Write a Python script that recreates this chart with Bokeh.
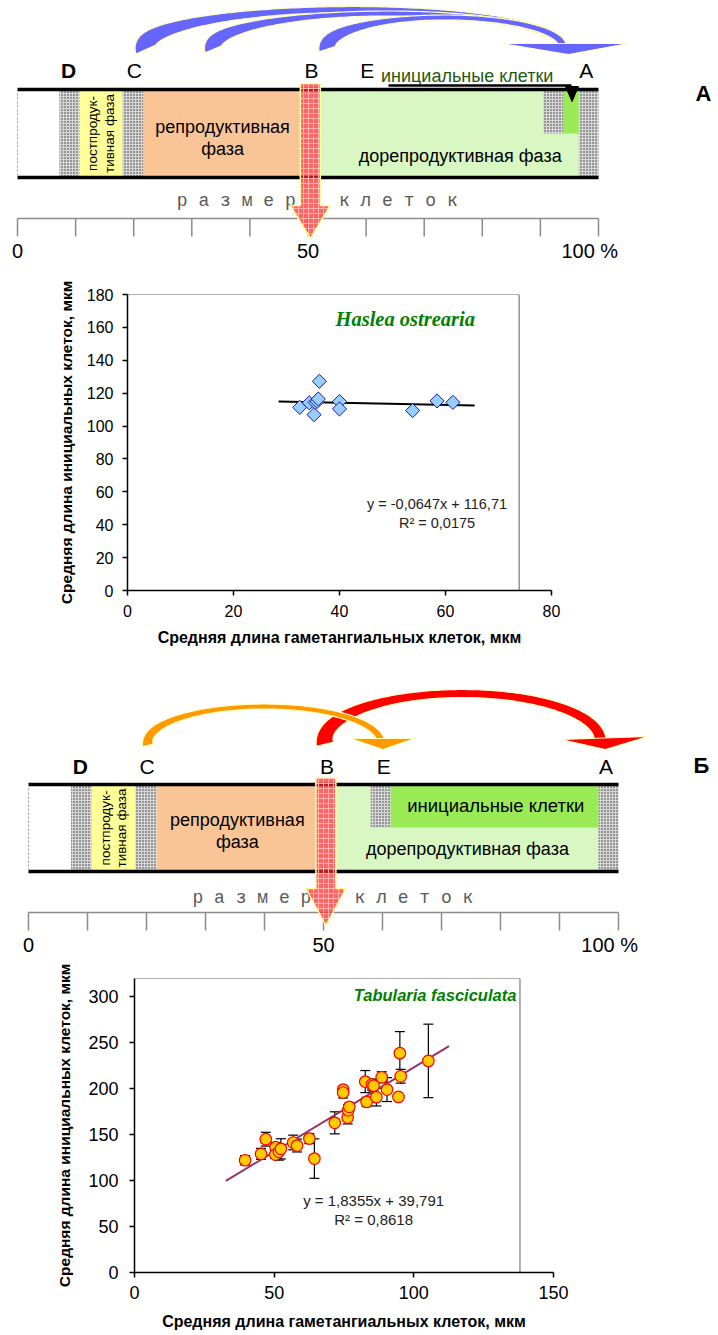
import numpy as np
from bokeh.plotting import figure
from bokeh.layouts import column
from bokeh.models import Range1d, FixedTicker, Whisker, TeeHead, ColumnDataSource
from bokeh.core.properties import value
from bokeh.embed import file_html
from bokeh.resources import INLINE

SANS = "Liberation Sans"
SERIF = "Liberation Serif"
MONO = "Liberation Mono"

# ---------------- Chart A data: Haslea ostrearia ----------------
ha_gamet = [32.5, 34.3, 35.2, 35.4, 35.8, 36.0, 36.2, 40.0, 40.0, 53.8, 58.4, 61.4]
ha_init = [111.4, 114.1, 106.9, 114.4, 115.0, 116.5, 127.2, 114.9, 110.4, 109.4, 115.3, 114.4]
ha_slope, ha_icept = -0.0647, 116.71
ha_fit_x = [28.5, 65.5]
ha_xticks = [0, 20, 40, 60, 80]
ha_yticks = [0, 20, 40, 60, 80, 100, 120, 140, 160, 180]

# ---------------- Chart Б data: Tabularia fasciculata ----------------
tf_gamet = [39.6, 45.3, 47.0, 50.5, 50.4, 51.7, 52.4, 56.8, 58.2, 62.6, 64.4, 71.7, 74.7, 74.7,
            76.3, 76.5, 76.9, 82.6, 83.1, 85.0, 85.6, 86.6, 88.5, 90.4, 94.5, 95.0, 95.3, 105.2]
tf_init = [122.2, 129.1, 145.1, 136.4, 128.4, 131.3, 134.6, 141.5, 138.2, 145.8, 124.0, 162.9, 199.1, 195.9,
           168.7, 176.6, 180.3, 207.8, 185.7, 204.6, 203.4, 190.8, 212.5, 199.1, 191.1, 238.7, 213.6, 230.3]
tf_err = [5, 6, 7.5, 5, 4, 9, 11, 8, 7, 5.5, 21.5, 12, 3, 6,
          7, 6, 4, 12, 5, 6, 6, 9.5, 6, 13, 0, 23.5, 7.5, 40]
tf_slope, tf_icept = 1.8355, 39.791
tf_fit_x = [32.7, 112.6]
tf_xticks = [0, 50, 100, 150]
tf_yticks = [0, 50, 100, 150, 200, 250, 300]

# ---------------- Diagram data (percent of the cell-size scale) ----------------
scale_ticks = [0, 10, 20, 30, 40, 50, 60, 70, 80, 90, 100]
scale_label_pos = [0, 50, 100]
scale_labels = ["0", "50", "100 %"]
stage_letters = ["D", "C", "B", "E", "A"]
stage_pos = [8.8, 20.1, 50.6, 60.2, 97.9]
phase_start = [0.0, 7.2, 10.7, 18.1, 21.7, 48.7, 52.0, 96.6]
phase_end = [7.2, 10.7, 18.1, 21.7, 48.7, 52.0, 96.6, 100.0]
phase_kind = ["empty", "stipple", "post", "stipple", "repro", "empty", "prerepro", "stipple"]
inset_top_start = [90.5, 94.0]
inset_top_end = [94.0, 96.6]
inset_bot_start = [58.0, 61.4]
inset_bot_end = [61.4, 96.6]
inset_kind = ["stipple", "initial"]
B_pos = 50.4

FILL = {"empty": "#ffffff", "stipple": "#d6d6d6", "post": "#ffff99", "repro": "#f9c597",
        "prerepro": "#d8f7c2", "initial": "#99ea55"}

NB = "\u00a0"
RAZMER = NB.join("размер") + NB * 4 + NB.join("клеток")


def txt(p, x, y, s, size, color="black", style="normal", align="center", baseline="middle",
        angle=0.0, font=SANS):
    p.text(x=[x], y=[y], text=[s], text_font=value(font), text_font_size=value(f"{size}px"),
           text_color=color, text_font_style=style, text_align=align, text_baseline=baseline,
           angle=angle, text_line_height=1.1)


def rects(p, starts, ends, kinds, y0, y1):
    for s, e, k in zip(starts, ends, kinds):
        kw = dict(fill_color=FILL[k], line_color=None)
        if k == "stipple":
            kw.update(hatch_pattern="dot", hatch_color="#333333", hatch_scale=3, hatch_weight=1)
        p.quad(left=[s], right=[e], top=[y0], bottom=[y1], **kw)


def band_arc(p, X0, K, x0p, x1p, yb, h, w0, wm, w1, color, start=np.pi + 0.08, end=0.0):
    x0 = X0 + K * x0p
    x1 = X0 + K * x1p
    t = np.linspace(start, end, 140)
    cx, a = (x0 + x1) / 2, (x1 - x0) / 2
    X = cx + a * np.cos(t)
    Y = yb - h * np.sin(t)
    dX, dY = -a * np.sin(t), -h * np.cos(t)
    L = np.hypot(dX, dY)
    nx, ny = -dY / L, dX / L
    s = (t - end) / (start - end)
    w = np.where(s > 0.5, wm + (w0 - wm) * ((s - 0.5) * 2) ** 2, wm + (w1 - wm) * ((0.5 - s) * 2) ** 2)
    xs = np.concatenate([X + nx * w / 2, (X - nx * w / 2)[::-1]])
    ys = np.concatenate([Y + ny * w / 2, (Y - ny * w / 2)[::-1]])
    p.patch((xs - X0) / K, ys, fill_color=color, line_color="#ffffc0", line_width=1.2)


def head(p, X0, K, endp, yb, dl, dr, dt, depth, color, lift=0):
    e = X0 + K * endp
    xs = np.array([e + dl, e + dr, e + dt])
    ys = [yb - lift, yb, yb + depth]
    p.patch((xs - X0) / K, ys, fill_color=color, line_color="#ffffc0", line_width=1.2)


def red_down_arrow(p, X0, K, xp, y_s0, y_s1, y_tip):
    c = X0 + K * xp
    xs = np.array([c - 10, c + 10, c + 10, c + 20, c, c - 20, c - 10])
    ys = [y_s0, y_s0, y_s1, y_s1, y_tip, y_s1, y_s1]
    p.patch((xs - X0) / K, ys, fill_color="#ff2a2a", fill_alpha=0.72, line_color="#ffff99",
            line_width=1.5, hatch_pattern="+", hatch_color="#ffb0b0", hatch_scale=5, hatch_weight=1)


def diagram(y_from, y_to, X0, K, bar_top, bar_bot, inset_s, inset_e, inset_bottom, letters_y,
            razmer_y, scale_y, side_label, side_y, repro_lab, prerepro_lab):
    p = figure(width=718, height=y_to - y_from, x_range=Range1d(-X0 / K, (718 - X0) / K),
               y_range=Range1d(y_to, y_from), output_backend="svg", toolbar_location=None,
               x_axis_type=None, y_axis_type=None, min_border=0)
    p.frame_align = False
    p.grid.visible = False
    p.outline_line_color = None
    rects(p, phase_start, phase_end, phase_kind, bar_top, bar_bot)
    rects(p, inset_s, inset_e, inset_kind, bar_top, inset_bottom)
    p.segment(x0=[0, 0], x1=[100, 100], y0=[bar_top, bar_bot], y1=[bar_top, bar_bot],
              line_color="black", line_width=3.5)
    p.segment(x0=[0], x1=[0], y0=[bar_top], y1=[bar_bot], line_color="#999999", line_dash="2 2")
    txt(p, (phase_start[2] + phase_end[2]) / 2, (bar_top + bar_bot) / 2, "постпродук-\nтивная фаза",
        13.5, angle=np.pi / 2)
    txt(p, repro_lab[0], repro_lab[1], "репродуктивная\nфаза", 18)
    txt(p, prerepro_lab[0], prerepro_lab[1], "дорепродуктивная фаза", 18)
    for lt, xpos in zip(stage_letters, stage_pos):
        txt(p, xpos, letters_y, lt, 21, style="bold" if lt == "D" else "normal")
    txt(p, (side_label[1] - X0) / K, side_y, side_label[0], 22, style="bold")
    txt(p, 51.6, razmer_y, RAZMER, 18, color="#5a5a5a", font=MONO)
    p.segment(x0=[0], x1=[100], y0=[scale_y], y1=[scale_y], line_color="#8c8c8c", line_width=1.5)
    p.segment(x0=scale_ticks, x1=scale_ticks, y0=[scale_y] * len(scale_ticks),
              y1=[scale_y + 18] * len(scale_ticks), line_color="#8c8c8c", line_width=1.5)
    for pos, lab in zip(scale_label_pos, scale_labels):
        dx = -1.5 if lab.endswith("%") else 0
        txt(p, pos + dx, scale_y + 32, lab, 20)
    return p


# ---------------- Diagram A ----------------
X0a, Ka = 17.0, 5.81
d1 = diagram(0, 280, X0a, Ka, 89, 177, inset_top_start, inset_top_end, 133, 70, 200, 218,
             ("A", 703), 93, (35.3, 137), (76.2, 155))
txt(d1, 77.4, 75, "инициальные клетки", 18, color="#1f5a0f")
d1.segment(x0=[(388 - X0a) / Ka], x1=[(571 - X0a) / Ka], y0=[85], y1=[85], line_color="black", line_width=2.5)
d1.patch(x=[(565 - X0a) / Ka, (578 - X0a) / Ka, (571.5 - X0a) / Ka], y=[86, 86, 101], fill_color="black",
         line_color="black")
band_arc(d1, X0a, Ka, 22.0, 93.8, 46, 37, 22, 6, 10, "#6666ff")
band_arc(d1, X0a, Ka, 33.7, 93.8, 46, 33, 19, 5, 8, "#6666ff")
band_arc(d1, X0a, Ka, 53.4, 93.8, 46, 29, 19, 5, 8, "#6666ff")
head(d1, X0a, Ka, 93.8, 43, -61, 66, 6, 11, "#6666ff")
red_down_arrow(d1, X0a, Ka, B_pos, 83, 205, 238)

# ---------------- Diagram Б ----------------
X0b, Kb = 28.0, 5.9
d2 = diagram(665, 960, X0b, Kb, 784, 871, inset_bot_start, inset_bot_end, 827, 766, 897, 912,
             ("Б", 701), 765, (35.4, 830), (74.4, 848))
txt(d2, 79.2, 805, "инициальные клетки", 18.5)
band_arc(d2, X0b, Kb, 50.2, 96.9, 740, 47, 18, 8, 12, "#ff0000")
head(d2, X0b, Kb, 96.9, 736, -39, 48, 5, 13, "#ff0000", lift=-3)
band_arc(d2, X0b, Kb, 20.2, 59.7, 742, 36, 11, 5, 8, "#ff9900")
head(d2, X0b, Kb, 59.7, 738, -30, 34, 2, 11, "#ff9900")
red_down_arrow(d2, X0b, Kb, B_pos, 777, 888, 925)


# ---------------- scatter charts ----------------
def chart(height, xr, yr, xt, yt, left, right, top, bottom, tick_size, xlab_size, ylab_size, xls, yls):
    p = figure(width=718, height=height, x_range=Range1d(*xr), y_range=Range1d(*yr),
               output_backend="svg", toolbar_location=None,
               min_border_left=left, min_border_right=right, min_border_top=top, min_border_bottom=bottom)
    p.frame_align = False
    p.grid.visible = False
    p.outline_line_color = None
    p.xaxis.ticker = FixedTicker(ticks=xt)
    p.yaxis.ticker = FixedTicker(ticks=yt)
    for ax in (p.xaxis, p.yaxis):
        ax.axis_line_color = "black"
        ax.axis_line_width = 1.5
        ax.major_tick_line_color = "black"
        ax.major_tick_line_width = 1.5
        ax.major_tick_out = 5
        ax.major_tick_in = 0
        ax.minor_tick_line_color = None
        ax.major_label_text_font = SANS
        ax.major_label_text_font_size = f"{tick_size}px"
        ax.major_label_text_color = "black"
        ax.axis_label_text_font = SANS
        ax.axis_label_text_font_style = "bold"
        ax.axis_label_text_color = "black"
    p.xaxis.axis_label_text_font_size = f"{xlab_size}px"
    p.yaxis.axis_label_text_font_size = f"{ylab_size}px"
    p.xaxis.axis_label = "Средняя длина гаметангиальных клеток, мкм"
    p.yaxis.axis_label = "Средняя длина инициальных клеток, мкм"
    p.xaxis.major_label_standoff = xls[0]
    p.xaxis.axis_label_standoff = xls[1]
    p.yaxis.major_label_standoff = yls[0]
    p.yaxis.axis_label_standoff = yls[1]
    return p


c1 = chart(385, (0, 80), (0, 180), ha_xticks, ha_yticks, 127, 167, 14, 75, 16, 16, 15.5, (9, 9), (9, 9))
c1.segment(x0=[0, 73.9], x1=[73.9, 73.9], y0=[180, 0], y1=[180, 180], line_color="#606060", line_width=1)
fit_a = [ha_slope * x + ha_icept for x in ha_fit_x]
c1.line(ha_fit_x, fit_a, line_color="black", line_width=2)
c1.scatter(ha_gamet, ha_init, marker="square", angle=np.pi / 4, size=10, fill_color="#99ccff",
           line_color="#1a1aa6", line_width=1)
txt(c1, 52.4, 165.4, "Haslea ostrearia", 20.5, color="#008000", style="bold italic", font=SERIF)
txt(c1, 58.4, 52.8, "y = -0,0647x + 116,71", 14.5, color="#222222")
txt(c1, 58.4, 41.2, "R² = 0,0175", 14.5, color="#222222")

c2 = chart(375, (0, 150), (0, 320), tf_xticks, tf_yticks, 134, 165, 18, 63, 18, 16, 15.5, (8, 11), (11, 12))
c2.segment(x0=[0, 138.0], x1=[138.0, 138.0], y0=[320, 0], y1=[320, 320], line_color="#606060", line_width=1)
eb_x = [x for x, e in zip(tf_gamet, tf_err) if e > 0]
eb_up = [y + e for y, e in zip(tf_init, tf_err) if e > 0]
eb_lo = [y - e for y, e in zip(tf_init, tf_err) if e > 0]
eb_src = ColumnDataSource(dict(x=eb_x, up=eb_up, lo=eb_lo))
c2.add_layout(Whisker(source=eb_src, base="x", upper="up", lower="lo", line_color="black", line_width=1.2,
                      upper_head=TeeHead(size=10, line_color="black", line_width=1.2),
                      lower_head=TeeHead(size=10, line_color="black", line_width=1.2)))
fit_b = [tf_slope * x + tf_icept for x in tf_fit_x]
c2.line(tf_fit_x, fit_b, line_color="#993366", line_width=2)
c2.scatter(tf_gamet, tf_init, marker="circle", size=11.5, fill_color="#ffcc00", line_color="#ff0000",
           line_width=1.2)
txt(c2, 107.6, 301.7, "Tabularia fasciculata", 16.5, color="#008000", style="bold italic")
txt(c2, 85.6, 78.7, "y = 1,8355x + 39,791", 15, color="#222222")
txt(c2, 85.6, 58.0, "R² = 0,8618", 15, color="#222222")

layout = column(d1, c1, d2, c2, spacing=0)
open("out.html", "w").write(file_html(layout, INLINE))
